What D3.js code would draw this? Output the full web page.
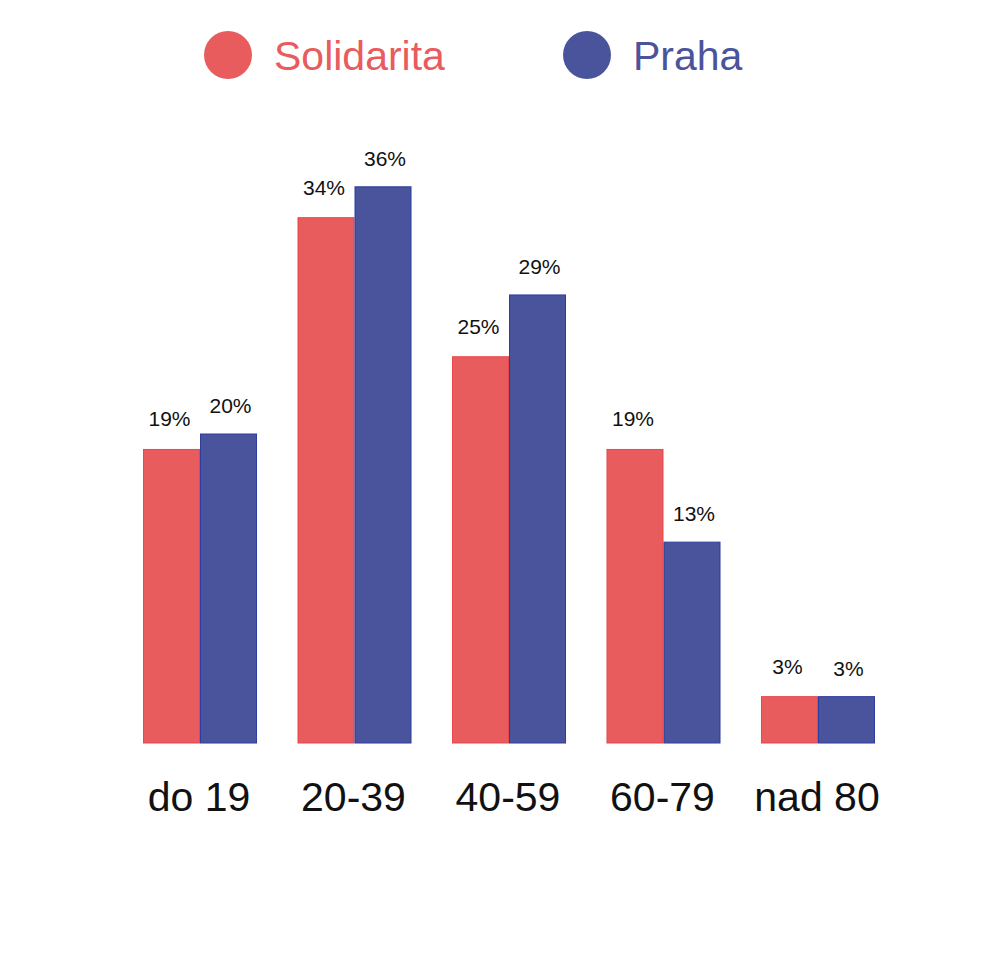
<!DOCTYPE html>
<html>
<head>
<meta charset="utf-8">
<script src="https://cdn.jsdelivr.net/npm/d3@7"></script>
<style>
  body { margin: 0; background: #fff; }
  text { font-family: "Liberation Sans", Arial, sans-serif; }
</style>
</head>
<body>
<div id="chart"></div>
<script>
// data
var categories = ["do 19", "20-39", "40-59", "60-79", "nad 80"];
var seriesNames = ["Solidarita", "Praha"];
var solidarita = [19, 34, 25, 19, 3];
var praha = [20, 36, 29, 13, 3];

var fills = ["#e85c5e", "#4a549c"];
var strokes = ["#e8474c", "#2d3c9e"];

var width = 1000, height = 979;
var baseline = 743;

var svg = d3.select("#chart")
  .append("svg")
  .attr("width", width)
  .attr("height", height);

// group positions
var x = d3.scaleBand()
  .domain(categories)
  .range([143, 875])
  .paddingInner(0.262)
  .paddingOuter(0);

var xs = d3.scaleBand()
  .domain(seriesNames)
  .range([0, x.bandwidth()]);

var y = d3.scaleLinear()
  .domain([0, 40])
  .range([baseline, baseline - 40 * 15.45]);

var rows = categories.map(function(c, i) {
  return { cat: c, vals: [solidarita[i], praha[i]] };
});

var groups = svg.selectAll(".grp")
  .data(rows)
  .enter()
  .append("g")
  .attr("class", "grp")
  .attr("transform", d => "translate(" + x(d.cat) + ",0)");

var bars = groups.selectAll("g.bar")
  .data(d => d.vals.map((v, j) => ({ v: v, s: seriesNames[j], j: j })))
  .enter()
  .append("g")
  .attr("class", "bar");

bars.append("rect")
  .attr("x", d => xs(d.s) + 0.5)
  .attr("y", d => y(d.v))
  .attr("width", xs.bandwidth() - 1)
  .attr("height", d => baseline - y(d.v))
  .attr("fill", d => fills[d.j])
  .attr("stroke", d => strokes[d.j])
  .attr("stroke-width", 1);

bars.append("text")
  .attr("x", d => xs(d.s) + xs.bandwidth() / 2 + (d.j === 0 ? -2 : 2))
  .attr("y", d => y(d.v) - (d.j === 0 ? 23 : 21))
  .attr("text-anchor", "middle")
  .attr("font-size", "21px")
  .attr("fill", "#111")
  .text(d => d.v + "%");

// category labels
svg.append("g")
  .selectAll("text")
  .data(categories)
  .enter()
  .append("text")
  .attr("x", d => x(d) + x.bandwidth() / 2 - 1)
  .attr("y", 811)
  .attr("text-anchor", "middle")
  .attr("font-size", "41px")
  .attr("fill", "#111")
  .text(d => d);

// legend
var legendX = [228, 587];
var legend = svg.append("g")
  .selectAll("g")
  .data(seriesNames)
  .enter()
  .append("g")
  .attr("transform", (d, i) => "translate(" + legendX[i] + ",55)");

legend.append("circle")
  .attr("r", 24)
  .attr("fill", (d, i) => fills[i]);

legend.append("text")
  .attr("x", 46)
  .attr("y", 15)
  .attr("font-size", "41px")
  .attr("fill", (d, i) => fills[i])
  .text(d => d);
</script>
</body>
</html>
